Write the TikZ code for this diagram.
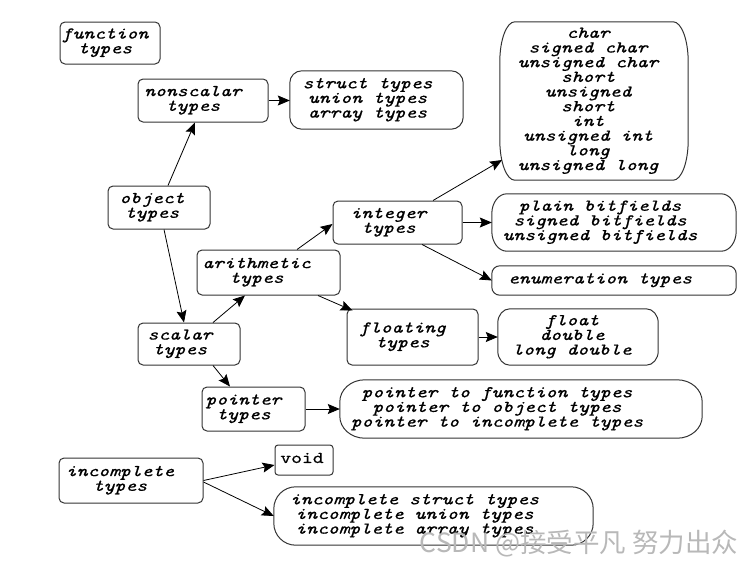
\documentclass[tikz,border=0pt]{standalone}
\usepackage{fontspec}
\usetikzlibrary{arrows.meta,calc}
\newfontfamily\cmono[Extension=.otf, ItalicFont=lmmono10-italic, FakeStretch=1.25, FakeBold=0.7]{lmmono10-regular}
\newfontfamily\cjkfont{Noto Sans CJK SC}
\newcommand\tyfont{\cmono\itshape\fontsize{16.5}{14.7}\selectfont}
\newcommand\boxtxt[2]{\begin{tabular}{@{}c@{}}#2\end{tabular}\hspace*{#1pt}}
\newcommand\ovalbox[3]{%
  \draw[border] ($(#1.north west)+(#2,0)$) -- ($(#1.north east)+(-#2,0)$)
   .. controls +(0.552*#2,0) and +(0,-0.552*#3) .. ($(#1.north east)+(0,#3)$)
   -- ($(#1.south east)+(0,-#3)$)
   .. controls +(0,0.552*#3) and +(0.552*#2,0) .. ($(#1.south east)+(-#2,0)$)
   -- ($(#1.south west)+(#2,0)$)
   .. controls +(-0.552*#2,0) and +(0,0.552*#3) .. ($(#1.south west)+(0,-#3)$)
   -- ($(#1.north west)+(0,#3)$)
   .. controls +(0,-0.552*#3) and +(-0.552*#2,0) .. ($(#1.north west)+(#2,0)$) -- cycle;}
\tikzset{
  border/.style={draw=black!80, line width=1pt},
  base/.style={inner sep=0pt, font=\tyfont},
  small/.style={base, border, rectangle, rounded corners=5pt},
  plainbox/.style={base, rectangle},
  conn/.style={line width=0.8pt, -{Stealth[length=12pt,width=10pt,inset=2pt]}},
}
\begin{document}
\begin{tikzpicture}[x=1pt,y=-1pt]
\useasboundingbox (0,0) rectangle (752,568);
\node[small, minimum width=100, minimum height=42] (fn) at (110,43) {\boxtxt{10}{function\\types}};
\node[small, minimum width=130, minimum height=43] (nonscalar) at (203,100.5) {\boxtxt{20}{nonscalar\\types}};
\node[plainbox, minimum width=173, minimum height=58] (struct) at (376.5,100) {\boxtxt{18}{struct types\\union types\\array types}};
\node[plainbox, minimum width=188, minimum height=158] (charbox) at (594,101) {\boxtxt{12}{char\\signed char\\unsigned char\\short\\unsigned\\short\\int\\unsigned int\\long\\unsigned long}};
\node[small, minimum width=102, minimum height=43] (object) at (159,207.5) {\boxtxt{14}{object\\types}};
\node[small, minimum width=129, minimum height=43] (integer) at (397.5,222.5) {\boxtxt{18}{integer\\types}};
\node[small, minimum width=143, minimum height=45] (arith) at (268.5,272.5) {\boxtxt{24}{arithmetic\\types}};
\node[small, minimum width=102, minimum height=42] (scalar) at (189,344) {\boxtxt{18}{scalar\\types}};
\node[small, minimum width=131, minimum height=56] (floating) at (412.5,337) {\boxtxt{20}{floating\\types}};
\node[plainbox, minimum width=244, minimum height=57] (bitf) at (614,222.5) {\boxtxt{28}{plain bitfields\\signed bitfields\\unsigned bitfields}};
\node[plainbox, minimum width=244, minimum height=29] (enum) at (614,280.5) {\boxtxt{28}{enumeration types}};
\node[plainbox, minimum width=160, minimum height=56] (floatbox) at (578,337) {\boxtxt{12}{float\\double\\long double}};
\node[small, minimum width=103, minimum height=44] (pointer) at (253.5,409) {\boxtxt{20}{pointer\\types}};
\node[plainbox, minimum width=362, minimum height=58] (pto) at (521,409) {\boxtxt{48}{pointer to function types\\pointer to object types\\pointer to incomplete types}};
\node[small, rounded corners=3pt, minimum width=58, minimum height=30, font=\cmono\upshape\fontsize{16.5}{14.7}\selectfont] (void) at (304,460) {\boxtxt{4}{void}};
\node[small, minimum width=144, minimum height=45] (incomplete) at (131,480.5) {\boxtxt{22}{incomplete\\types}};
\node[plainbox, minimum width=319, minimum height=58] (istruct) at (433.5,516) {\boxtxt{38}{incomplete struct types\\incomplete union types\\incomplete array types}};

\ovalbox{struct}{12}{12}
\ovalbox{charbox}{15}{40}
\ovalbox{bitf}{15}{20}
\ovalbox{enum}{8}{8}
\ovalbox{floatbox}{12}{14}
\ovalbox{pto}{25}{22}
\ovalbox{istruct}{22}{22}

\draw[conn] ($(object.north)+(9,0)$) -- ($(nonscalar.south)+(-8,0)$);
\draw[conn] ($(object.south)+(5,0)$) -- ($(scalar.north)+(-5,0)$);
\draw[conn] (nonscalar.east) -- (nonscalar.east -| struct.west);
\draw[conn] ($(scalar.north)+(24,0)$) -- ($(arith.south)+(-23.5,0)$);
\draw[conn] ($(arith.north)+(28.5,0)$) -- ($(integer.west)+(0,1.5)$);
\draw[conn] ($(arith.south)+(49.5,0)$) -- ($(floating.north west)+(6,2)$);
\draw[conn] ($(integer.north)+(35.5,0)$) -- ($(charbox.center)+(-92,59)$);
\draw[conn] (integer.east) -- (bitf.west);
\draw[conn] ($(integer.south)+(24.5,0)$) -- (enum.west);
\draw[conn] (floating.east) -- (floatbox.west);
\draw[conn] ($(scalar.south)+(24,0)$) -- ($(pointer.north)+(-23.5,0)$);
\draw[conn] (pointer.east) -- (pto.west);
\draw[conn] (incomplete.east) -- ($(void.west)+(0,5)$);
\draw[conn] ($(incomplete.east)+(0,1.5)$) -- (istruct.west);

\node[text=black!28, font=\cjkfont\fontsize{26.5}{26.5}\selectfont, inner sep=0pt] (wm) at (579,544) {CSDN @接受平凡 努力出众};
\end{tikzpicture}
\end{document}
